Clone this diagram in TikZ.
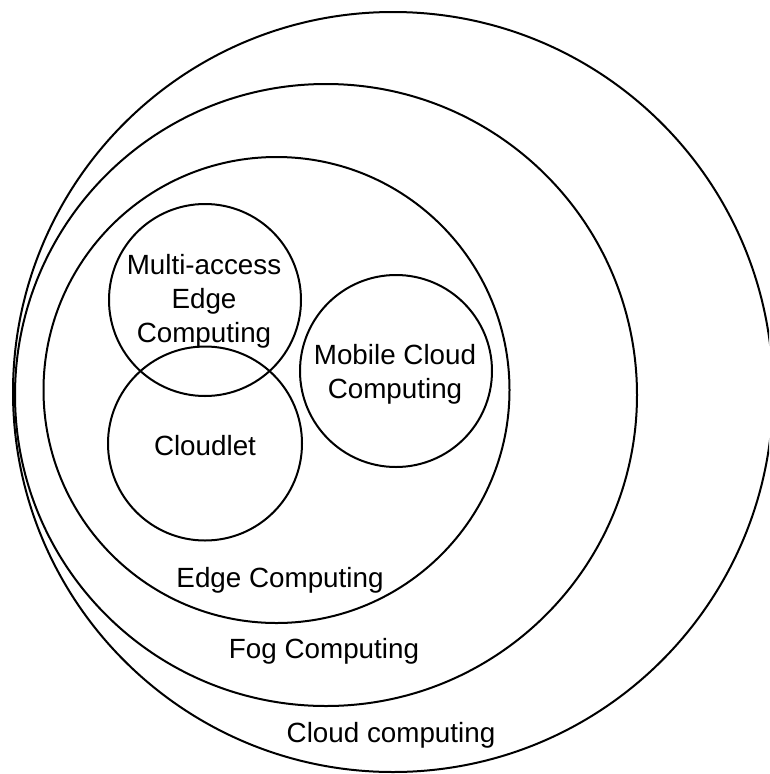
\documentclass[tikz,border=0pt]{standalone}
\usepackage{fontspec}
\setmainfont{Liberation Sans}
\begin{document}
\begin{tikzpicture}[x=1pt,y=-1pt,
  ring/.style={draw, circle, line width=2pt, inner sep=0pt, outer sep=0pt, minimum size=#1},
  lbl/.style={font=\fontsize{27.8}{34}\selectfont, align=center, inner sep=0pt}]
\useasboundingbox (0,0) rectangle (769,774);
\clip (0,0) rectangle (769,774);
% nested computing paradigms
\node[ring=760pt] (cloud)    at (393,392)   {};
\node[ring=622pt] (fog)      at (326,395)   {};
\node[ring=466pt] (edge)     at (276.5,390) {};
\node[ring=192pt] (mec)      at (205,300)   {};
\node[ring=194pt] (cloudlet) at (205,443.5) {};
\node[ring=192pt] (mcc)      at (396,371)   {};
% labels
\node[lbl] (mecT)   at (204,301) {Multi-access\\Edge\\Computing};
\node[lbl, anchor=base] (cloudletT) at (205,455) {Cloudlet};
\node[lbl] (mccT)   at (395,374) {Mobile Cloud\\Computing};
\node[lbl, anchor=base] (edgeT)  at (280,587) {Edge Computing};
\node[lbl, anchor=base] (fogT)   at (324,658) {Fog Computing};
\node[lbl, anchor=base] (cloudT) at (391,742) {Cloud computing};
\end{tikzpicture}
\end{document}
